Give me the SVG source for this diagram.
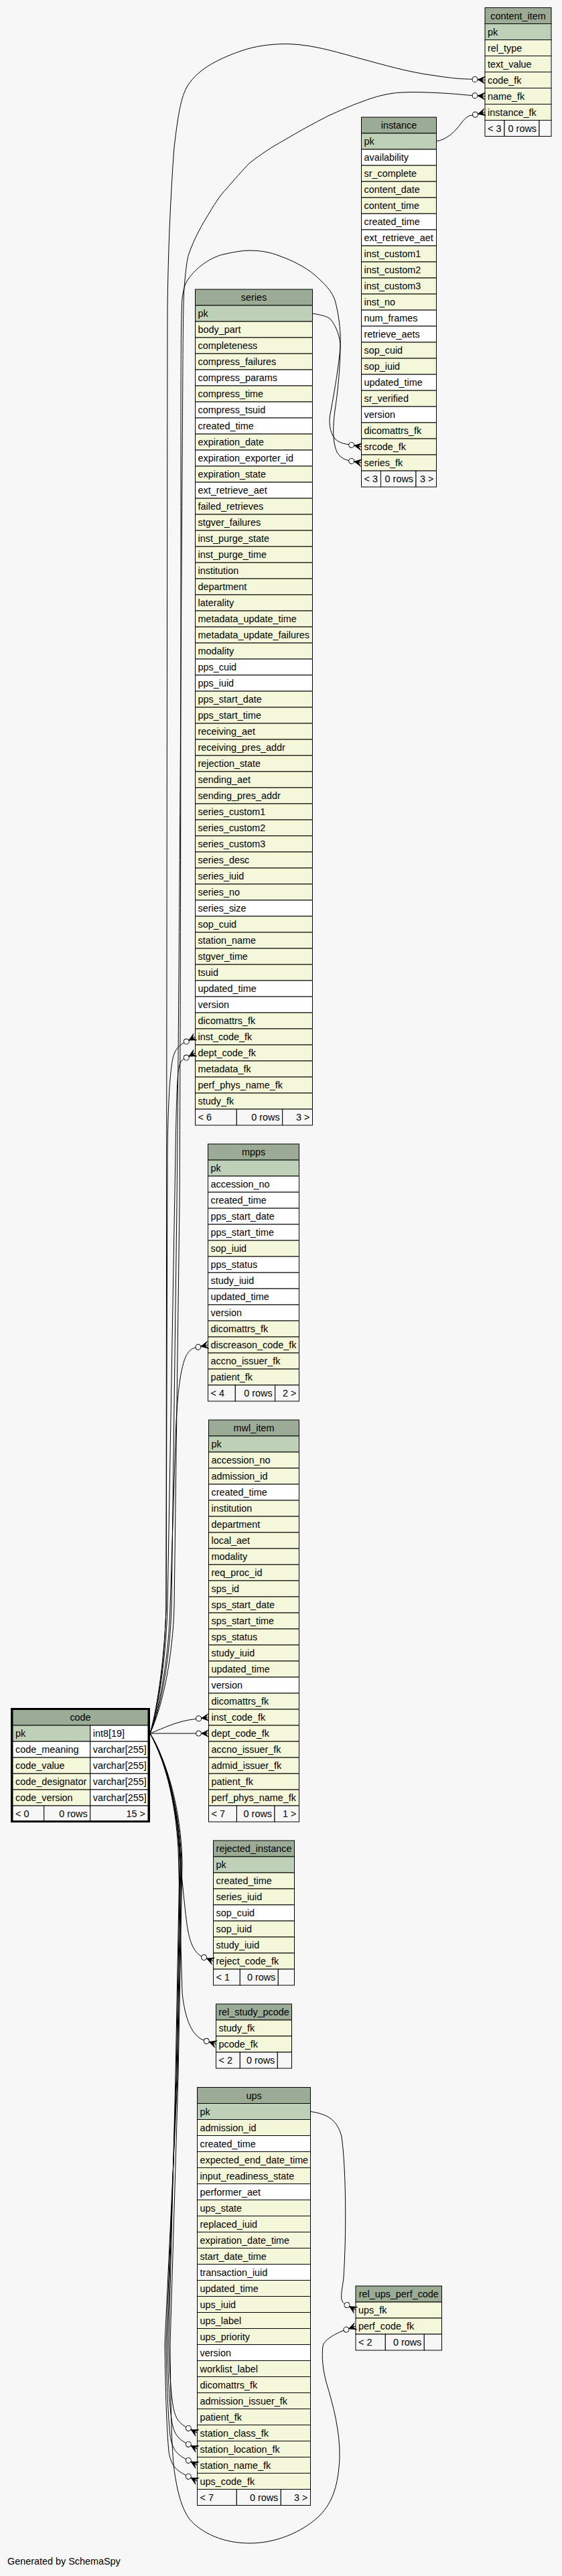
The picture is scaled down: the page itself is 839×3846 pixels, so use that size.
<svg xmlns="http://www.w3.org/2000/svg" width="839" height="3846" viewBox="0 0 839 3846">
<style>
.t rect{stroke:#000;stroke-width:1}
.hd{fill:#9bab96}.pk{fill:#bed1b8}.ix{fill:#f4f7da}.nm{fill:#fff}.ft{fill:#f7f7f7}
text{font-family:"Liberation Sans",Arial,Helvetica,sans-serif;font-size:14.4px;fill:#000}
.c{text-anchor:middle}.r{text-anchor:end}
#connectors path{fill:none;stroke:#000;stroke-width:1}
</style>
<defs>
<g id="crowodot">
<circle cx="-15" cy="0" r="4" fill="#fff" stroke="#000" stroke-width="1"/>
<path d="M-11,0 L0,-5.5 L-4.5,0 L0,5.5 Z" fill="#000" stroke="#000" stroke-width="0.6"/>
<path d="M-11,0 H0" stroke="#000" stroke-width="1"/>
</g>
</defs>
<rect width="839" height="3846" fill="#f7f7f7"/>

<g id="content_item" class="t">
<rect class="hd" x="724" y="11.5" width="99" height="24"/><text class="c" x="773.5" y="28.5">content_item</text>
<rect class="pk" x="724" y="35.5" width="99" height="24"/><text x="728" y="52.5">pk</text>
<rect class="ix" x="724" y="59.5" width="99" height="24"/><text x="728" y="76.5">rel_type</text>
<rect class="ix" x="724" y="83.5" width="99" height="24"/><text x="728" y="100.5">text_value</text>
<rect class="ix" x="724" y="107.5" width="99" height="24"/><text x="728" y="124.5">code_fk</text>
<rect class="ix" x="724" y="131.5" width="99" height="24"/><text x="728" y="148.5">name_fk</text>
<rect class="ix" x="724" y="155.5" width="99" height="24"/><text x="728" y="172.5">instance_fk</text>
<rect class="ft" x="724" y="179.5" width="29" height="24"/><rect class="ft" x="753" y="179.5" width="52" height="24"/><rect class="ft" x="805" y="179.5" width="18" height="24"/>
<text x="728" y="196.5">&lt; 3</text><text class="r" x="801" y="196.5">0 rows</text>
</g>

<g id="instance" class="t">
<rect class="hd" x="539.5" y="175" width="112" height="24"/><text class="c" x="595.5" y="192">instance</text>
<rect class="pk" x="539.5" y="199" width="112" height="24"/><text x="543.5" y="216">pk</text>
<rect class="nm" x="539.5" y="223" width="112" height="24"/><text x="543.5" y="240">availability</text>
<rect class="ix" x="539.5" y="247" width="112" height="24"/><text x="543.5" y="264">sr_complete</text>
<rect class="ix" x="539.5" y="271" width="112" height="24"/><text x="543.5" y="288">content_date</text>
<rect class="ix" x="539.5" y="295" width="112" height="24"/><text x="543.5" y="312">content_time</text>
<rect class="nm" x="539.5" y="319" width="112" height="24"/><text x="543.5" y="336">created_time</text>
<rect class="nm" x="539.5" y="343" width="112" height="24"/><text x="543.5" y="360">ext_retrieve_aet</text>
<rect class="ix" x="539.5" y="367" width="112" height="24"/><text x="543.5" y="384">inst_custom1</text>
<rect class="ix" x="539.5" y="391" width="112" height="24"/><text x="543.5" y="408">inst_custom2</text>
<rect class="ix" x="539.5" y="415" width="112" height="24"/><text x="543.5" y="432">inst_custom3</text>
<rect class="ix" x="539.5" y="439" width="112" height="24"/><text x="543.5" y="456">inst_no</text>
<rect class="nm" x="539.5" y="463" width="112" height="24"/><text x="543.5" y="480">num_frames</text>
<rect class="nm" x="539.5" y="487" width="112" height="24"/><text x="543.5" y="504">retrieve_aets</text>
<rect class="ix" x="539.5" y="511" width="112" height="24"/><text x="543.5" y="528">sop_cuid</text>
<rect class="ix" x="539.5" y="535" width="112" height="24"/><text x="543.5" y="552">sop_iuid</text>
<rect class="nm" x="539.5" y="559" width="112" height="24"/><text x="543.5" y="576">updated_time</text>
<rect class="ix" x="539.5" y="583" width="112" height="24"/><text x="543.5" y="600">sr_verified</text>
<rect class="nm" x="539.5" y="607" width="112" height="24"/><text x="543.5" y="624">version</text>
<rect class="ix" x="539.5" y="631" width="112" height="24"/><text x="543.5" y="648">dicomattrs_fk</text>
<rect class="ix" x="539.5" y="655" width="112" height="24"/><text x="543.5" y="672">srcode_fk</text>
<rect class="ix" x="539.5" y="679" width="112" height="24"/><text x="543.5" y="696">series_fk</text>
<rect class="ft" x="539.5" y="703" width="29" height="24"/><rect class="ft" x="568.5" y="703" width="52.5" height="24"/><rect class="ft" x="621" y="703" width="30.5" height="24"/>
<text x="543.5" y="720">&lt; 3</text><text class="r" x="617" y="720">0 rows</text><text class="r" x="647.5" y="720">3 &gt;</text>
</g>

<g id="series" class="t">
<rect class="hd" x="291.5" y="432" width="175" height="24"/><text class="c" x="379" y="449">series</text>
<rect class="pk" x="291.5" y="456" width="175" height="24"/><text x="295.5" y="473">pk</text>
<rect class="ix" x="291.5" y="480" width="175" height="24"/><text x="295.5" y="497">body_part</text>
<rect class="ix" x="291.5" y="504" width="175" height="24"/><text x="295.5" y="521">completeness</text>
<rect class="ix" x="291.5" y="528" width="175" height="24"/><text x="295.5" y="545">compress_failures</text>
<rect class="nm" x="291.5" y="552" width="175" height="24"/><text x="295.5" y="569">compress_params</text>
<rect class="ix" x="291.5" y="576" width="175" height="24"/><text x="295.5" y="593">compress_time</text>
<rect class="nm" x="291.5" y="600" width="175" height="24"/><text x="295.5" y="617">compress_tsuid</text>
<rect class="nm" x="291.5" y="624" width="175" height="24"/><text x="295.5" y="641">created_time</text>
<rect class="ix" x="291.5" y="648" width="175" height="24"/><text x="295.5" y="665">expiration_date</text>
<rect class="nm" x="291.5" y="672" width="175" height="24"/><text x="295.5" y="689">expiration_exporter_id</text>
<rect class="ix" x="291.5" y="696" width="175" height="24"/><text x="295.5" y="713">expiration_state</text>
<rect class="nm" x="291.5" y="720" width="175" height="24"/><text x="295.5" y="737">ext_retrieve_aet</text>
<rect class="ix" x="291.5" y="744" width="175" height="24"/><text x="295.5" y="761">failed_retrieves</text>
<rect class="ix" x="291.5" y="768" width="175" height="24"/><text x="295.5" y="785">stgver_failures</text>
<rect class="ix" x="291.5" y="792" width="175" height="24"/><text x="295.5" y="809">inst_purge_state</text>
<rect class="ix" x="291.5" y="816" width="175" height="24"/><text x="295.5" y="833">inst_purge_time</text>
<rect class="ix" x="291.5" y="840" width="175" height="24"/><text x="295.5" y="857">institution</text>
<rect class="ix" x="291.5" y="864" width="175" height="24"/><text x="295.5" y="881">department</text>
<rect class="ix" x="291.5" y="888" width="175" height="24"/><text x="295.5" y="905">laterality</text>
<rect class="ix" x="291.5" y="912" width="175" height="24"/><text x="295.5" y="929">metadata_update_time</text>
<rect class="ix" x="291.5" y="936" width="175" height="24"/><text x="295.5" y="953">metadata_update_failures</text>
<rect class="ix" x="291.5" y="960" width="175" height="24"/><text x="295.5" y="977">modality</text>
<rect class="nm" x="291.5" y="984" width="175" height="24"/><text x="295.5" y="1001">pps_cuid</text>
<rect class="nm" x="291.5" y="1008" width="175" height="24"/><text x="295.5" y="1025">pps_iuid</text>
<rect class="ix" x="291.5" y="1032" width="175" height="24"/><text x="295.5" y="1049">pps_start_date</text>
<rect class="ix" x="291.5" y="1056" width="175" height="24"/><text x="295.5" y="1073">pps_start_time</text>
<rect class="ix" x="291.5" y="1080" width="175" height="24"/><text x="295.5" y="1097">receiving_aet</text>
<rect class="ix" x="291.5" y="1104" width="175" height="24"/><text x="295.5" y="1121">receiving_pres_addr</text>
<rect class="ix" x="291.5" y="1128" width="175" height="24"/><text x="295.5" y="1145">rejection_state</text>
<rect class="ix" x="291.5" y="1152" width="175" height="24"/><text x="295.5" y="1169">sending_aet</text>
<rect class="ix" x="291.5" y="1176" width="175" height="24"/><text x="295.5" y="1193">sending_pres_addr</text>
<rect class="ix" x="291.5" y="1200" width="175" height="24"/><text x="295.5" y="1217">series_custom1</text>
<rect class="ix" x="291.5" y="1224" width="175" height="24"/><text x="295.5" y="1241">series_custom2</text>
<rect class="ix" x="291.5" y="1248" width="175" height="24"/><text x="295.5" y="1265">series_custom3</text>
<rect class="ix" x="291.5" y="1272" width="175" height="24"/><text x="295.5" y="1289">series_desc</text>
<rect class="ix" x="291.5" y="1296" width="175" height="24"/><text x="295.5" y="1313">series_iuid</text>
<rect class="ix" x="291.5" y="1320" width="175" height="24"/><text x="295.5" y="1337">series_no</text>
<rect class="nm" x="291.5" y="1344" width="175" height="24"/><text x="295.5" y="1361">series_size</text>
<rect class="ix" x="291.5" y="1368" width="175" height="24"/><text x="295.5" y="1385">sop_cuid</text>
<rect class="ix" x="291.5" y="1392" width="175" height="24"/><text x="295.5" y="1409">station_name</text>
<rect class="ix" x="291.5" y="1416" width="175" height="24"/><text x="295.5" y="1433">stgver_time</text>
<rect class="ix" x="291.5" y="1440" width="175" height="24"/><text x="295.5" y="1457">tsuid</text>
<rect class="nm" x="291.5" y="1464" width="175" height="24"/><text x="295.5" y="1481">updated_time</text>
<rect class="nm" x="291.5" y="1488" width="175" height="24"/><text x="295.5" y="1505">version</text>
<rect class="ix" x="291.5" y="1512" width="175" height="24"/><text x="295.5" y="1529">dicomattrs_fk</text>
<rect class="ix" x="291.5" y="1536" width="175" height="24"/><text x="295.5" y="1553">inst_code_fk</text>
<rect class="ix" x="291.5" y="1560" width="175" height="24"/><text x="295.5" y="1577">dept_code_fk</text>
<rect class="ix" x="291.5" y="1584" width="175" height="24"/><text x="295.5" y="1601">metadata_fk</text>
<rect class="ix" x="291.5" y="1608" width="175" height="24"/><text x="295.5" y="1625">perf_phys_name_fk</text>
<rect class="ix" x="291.5" y="1632" width="175" height="24"/><text x="295.5" y="1649">study_fk</text>
<rect class="ft" x="291.5" y="1656" width="61.8" height="24"/><rect class="ft" x="353.3" y="1656" width="68.4" height="24"/><rect class="ft" x="421.7" y="1656" width="44.8" height="24"/>
<text x="295.5" y="1673">&lt; 6</text><text class="r" x="417.7" y="1673">0 rows</text><text class="r" x="462.5" y="1673">3 &gt;</text>
</g>

<g id="mpps" class="t">
<rect class="hd" x="310.5" y="1708" width="136" height="24"/><text class="c" x="378.5" y="1725">mpps</text>
<rect class="pk" x="310.5" y="1732" width="136" height="24"/><text x="314.5" y="1749">pk</text>
<rect class="nm" x="310.5" y="1756" width="136" height="24"/><text x="314.5" y="1773">accession_no</text>
<rect class="nm" x="310.5" y="1780" width="136" height="24"/><text x="314.5" y="1797">created_time</text>
<rect class="nm" x="310.5" y="1804" width="136" height="24"/><text x="314.5" y="1821">pps_start_date</text>
<rect class="nm" x="310.5" y="1828" width="136" height="24"/><text x="314.5" y="1845">pps_start_time</text>
<rect class="ix" x="310.5" y="1852" width="136" height="24"/><text x="314.5" y="1869">sop_iuid</text>
<rect class="nm" x="310.5" y="1876" width="136" height="24"/><text x="314.5" y="1893">pps_status</text>
<rect class="nm" x="310.5" y="1900" width="136" height="24"/><text x="314.5" y="1917">study_iuid</text>
<rect class="nm" x="310.5" y="1924" width="136" height="24"/><text x="314.5" y="1941">updated_time</text>
<rect class="nm" x="310.5" y="1948" width="136" height="24"/><text x="314.5" y="1965">version</text>
<rect class="ix" x="310.5" y="1972" width="136" height="24"/><text x="314.5" y="1989">dicomattrs_fk</text>
<rect class="ix" x="310.5" y="1996" width="136" height="24"/><text x="314.5" y="2013">discreason_code_fk</text>
<rect class="ix" x="310.5" y="2020" width="136" height="24"/><text x="314.5" y="2037">accno_issuer_fk</text>
<rect class="ix" x="310.5" y="2044" width="136" height="24"/><text x="314.5" y="2061">patient_fk</text>
<rect class="ft" x="310.5" y="2068" width="40.8" height="24"/><rect class="ft" x="351.3" y="2068" width="59.4" height="24"/><rect class="ft" x="410.7" y="2068" width="35.8" height="24"/>
<text x="314.5" y="2085">&lt; 4</text><text class="r" x="406.7" y="2085">0 rows</text><text class="r" x="442.5" y="2085">2 &gt;</text>
</g>

<g id="mwl_item" class="t">
<rect class="hd" x="311.5" y="2120" width="135" height="24"/><text class="c" x="379" y="2137">mwl_item</text>
<rect class="pk" x="311.5" y="2144" width="135" height="24"/><text x="315.5" y="2161">pk</text>
<rect class="ix" x="311.5" y="2168" width="135" height="24"/><text x="315.5" y="2185">accession_no</text>
<rect class="ix" x="311.5" y="2192" width="135" height="24"/><text x="315.5" y="2209">admission_id</text>
<rect class="nm" x="311.5" y="2216" width="135" height="24"/><text x="315.5" y="2233">created_time</text>
<rect class="ix" x="311.5" y="2240" width="135" height="24"/><text x="315.5" y="2257">institution</text>
<rect class="ix" x="311.5" y="2264" width="135" height="24"/><text x="315.5" y="2281">department</text>
<rect class="ix" x="311.5" y="2288" width="135" height="24"/><text x="315.5" y="2305">local_aet</text>
<rect class="ix" x="311.5" y="2312" width="135" height="24"/><text x="315.5" y="2329">modality</text>
<rect class="ix" x="311.5" y="2336" width="135" height="24"/><text x="315.5" y="2353">req_proc_id</text>
<rect class="ix" x="311.5" y="2360" width="135" height="24"/><text x="315.5" y="2377">sps_id</text>
<rect class="ix" x="311.5" y="2384" width="135" height="24"/><text x="315.5" y="2401">sps_start_date</text>
<rect class="ix" x="311.5" y="2408" width="135" height="24"/><text x="315.5" y="2425">sps_start_time</text>
<rect class="ix" x="311.5" y="2432" width="135" height="24"/><text x="315.5" y="2449">sps_status</text>
<rect class="ix" x="311.5" y="2456" width="135" height="24"/><text x="315.5" y="2473">study_iuid</text>
<rect class="ix" x="311.5" y="2480" width="135" height="24"/><text x="315.5" y="2497">updated_time</text>
<rect class="nm" x="311.5" y="2504" width="135" height="24"/><text x="315.5" y="2521">version</text>
<rect class="ix" x="311.5" y="2528" width="135" height="24"/><text x="315.5" y="2545">dicomattrs_fk</text>
<rect class="ix" x="311.5" y="2552" width="135" height="24"/><text x="315.5" y="2569">inst_code_fk</text>
<rect class="ix" x="311.5" y="2576" width="135" height="24"/><text x="315.5" y="2593">dept_code_fk</text>
<rect class="ix" x="311.5" y="2600" width="135" height="24"/><text x="315.5" y="2617">accno_issuer_fk</text>
<rect class="ix" x="311.5" y="2624" width="135" height="24"/><text x="315.5" y="2641">admid_issuer_fk</text>
<rect class="ix" x="311.5" y="2648" width="135" height="24"/><text x="315.5" y="2665">patient_fk</text>
<rect class="ix" x="311.5" y="2672" width="135" height="24"/><text x="315.5" y="2689">perf_phys_name_fk</text>
<rect class="ft" x="311.5" y="2696" width="41.9" height="24"/><rect class="ft" x="353.4" y="2696" width="56.6" height="24"/><rect class="ft" x="410" y="2696" width="36.5" height="24"/>
<text x="315.5" y="2713">&lt; 7</text><text class="r" x="406" y="2713">0 rows</text><text class="r" x="442.5" y="2713">1 &gt;</text>
</g>

<g id="code" class="t">
<rect class="hd" x="19" y="2552" width="202" height="24"/><text class="c" x="120" y="2569">code</text>
<rect class="pk" x="19" y="2576" width="115.7" height="24"/><rect class="nm" x="134.7" y="2576" width="86.3" height="24"/>
<text x="23" y="2593">pk</text><text x="138.7" y="2593">int8[19]</text>
<rect class="nm" x="19" y="2600" width="115.7" height="24"/><rect class="nm" x="134.7" y="2600" width="86.3" height="24"/>
<text x="23" y="2617">code_meaning</text><text x="138.7" y="2617">varchar[255]</text>
<rect class="ix" x="19" y="2624" width="115.7" height="24"/><rect class="nm" x="134.7" y="2624" width="86.3" height="24"/>
<text x="23" y="2641">code_value</text><text x="138.7" y="2641">varchar[255]</text>
<rect class="ix" x="19" y="2648" width="115.7" height="24"/><rect class="nm" x="134.7" y="2648" width="86.3" height="24"/>
<text x="23" y="2665">code_designator</text><text x="138.7" y="2665">varchar[255]</text>
<rect class="ix" x="19" y="2672" width="115.7" height="24"/><rect class="nm" x="134.7" y="2672" width="86.3" height="24"/>
<text x="23" y="2689">code_version</text><text x="138.7" y="2689">varchar[255]</text>
<rect class="ft" x="19" y="2696" width="46.7" height="24"/><rect class="ft" x="65.7" y="2696" width="69" height="24"/><rect class="ft" x="134.7" y="2696" width="86.3" height="24"/>
<text x="23" y="2713">&lt; 0</text><text class="r" x="130.7" y="2713">0 rows</text><text class="r" x="217" y="2713">15 &gt;</text>
<rect x="17.5" y="2551.5" width="205" height="168" fill="none" style="stroke-width:3"/>
</g>

<g id="rejected_instance" class="t">
<rect class="hd" x="318.5" y="2748" width="121" height="24"/><text class="c" x="379" y="2765">rejected_instance</text>
<rect class="pk" x="318.5" y="2772" width="121" height="24"/><text x="322.5" y="2789">pk</text>
<rect class="ix" x="318.5" y="2796" width="121" height="24"/><text x="322.5" y="2813">created_time</text>
<rect class="ix" x="318.5" y="2820" width="121" height="24"/><text x="322.5" y="2837">series_iuid</text>
<rect class="nm" x="318.5" y="2844" width="121" height="24"/><text x="322.5" y="2861">sop_cuid</text>
<rect class="ix" x="318.5" y="2868" width="121" height="24"/><text x="322.5" y="2885">sop_iuid</text>
<rect class="ix" x="318.5" y="2892" width="121" height="24"/><text x="322.5" y="2909">study_iuid</text>
<rect class="ix" x="318.5" y="2916" width="121" height="24"/><text x="322.5" y="2933">reject_code_fk</text>
<rect class="ft" x="318.5" y="2940" width="39.8" height="24"/><rect class="ft" x="358.3" y="2940" width="57" height="24"/><rect class="ft" x="415.3" y="2940" width="24.2" height="24"/>
<text x="322.5" y="2957">&lt; 1</text><text class="r" x="411.3" y="2957">0 rows</text>
</g>

<g id="rel_study_pcode" class="t">
<rect class="hd" x="322.5" y="2992" width="113" height="24"/><text class="c" x="379" y="3009">rel_study_pcode</text>
<rect class="ix" x="322.5" y="3016" width="113" height="24"/><text x="326.5" y="3033">study_fk</text>
<rect class="ix" x="322.5" y="3040" width="113" height="24"/><text x="326.5" y="3057">pcode_fk</text>
<rect class="ft" x="322.5" y="3064" width="35.8" height="24"/><rect class="ft" x="358.3" y="3064" width="56" height="24"/><rect class="ft" x="414.3" y="3064" width="21.2" height="24"/>
<text x="326.5" y="3081">&lt; 2</text><text class="r" x="410.3" y="3081">0 rows</text>
</g>

<g id="ups" class="t">
<rect class="hd" x="294.5" y="3116.5" width="169" height="24"/><text class="c" x="379" y="3133.5">ups</text>
<rect class="pk" x="294.5" y="3140.5" width="169" height="24"/><text x="298.5" y="3157.5">pk</text>
<rect class="ix" x="294.5" y="3164.5" width="169" height="24"/><text x="298.5" y="3181.5">admission_id</text>
<rect class="nm" x="294.5" y="3188.5" width="169" height="24"/><text x="298.5" y="3205.5">created_time</text>
<rect class="ix" x="294.5" y="3212.5" width="169" height="24"/><text x="298.5" y="3229.5">expected_end_date_time</text>
<rect class="ix" x="294.5" y="3236.5" width="169" height="24"/><text x="298.5" y="3253.5">input_readiness_state</text>
<rect class="nm" x="294.5" y="3260.5" width="169" height="24"/><text x="298.5" y="3277.5">performer_aet</text>
<rect class="ix" x="294.5" y="3284.5" width="169" height="24"/><text x="298.5" y="3301.5">ups_state</text>
<rect class="ix" x="294.5" y="3308.5" width="169" height="24"/><text x="298.5" y="3325.5">replaced_iuid</text>
<rect class="ix" x="294.5" y="3332.5" width="169" height="24"/><text x="298.5" y="3349.5">expiration_date_time</text>
<rect class="ix" x="294.5" y="3356.5" width="169" height="24"/><text x="298.5" y="3373.5">start_date_time</text>
<rect class="nm" x="294.5" y="3380.5" width="169" height="24"/><text x="298.5" y="3397.5">transaction_iuid</text>
<rect class="ix" x="294.5" y="3404.5" width="169" height="24"/><text x="298.5" y="3421.5">updated_time</text>
<rect class="ix" x="294.5" y="3428.5" width="169" height="24"/><text x="298.5" y="3445.5">ups_iuid</text>
<rect class="ix" x="294.5" y="3452.5" width="169" height="24"/><text x="298.5" y="3469.5">ups_label</text>
<rect class="ix" x="294.5" y="3476.5" width="169" height="24"/><text x="298.5" y="3493.5">ups_priority</text>
<rect class="nm" x="294.5" y="3500.5" width="169" height="24"/><text x="298.5" y="3517.5">version</text>
<rect class="ix" x="294.5" y="3524.5" width="169" height="24"/><text x="298.5" y="3541.5">worklist_label</text>
<rect class="ix" x="294.5" y="3548.5" width="169" height="24"/><text x="298.5" y="3565.5">dicomattrs_fk</text>
<rect class="ix" x="294.5" y="3572.5" width="169" height="24"/><text x="298.5" y="3589.5">admission_issuer_fk</text>
<rect class="ix" x="294.5" y="3596.5" width="169" height="24"/><text x="298.5" y="3613.5">patient_fk</text>
<rect class="ix" x="294.5" y="3620.5" width="169" height="24"/><text x="298.5" y="3637.5">station_class_fk</text>
<rect class="ix" x="294.5" y="3644.5" width="169" height="24"/><text x="298.5" y="3661.5">station_location_fk</text>
<rect class="ix" x="294.5" y="3668.5" width="169" height="24"/><text x="298.5" y="3685.5">station_name_fk</text>
<rect class="ix" x="294.5" y="3692.5" width="169" height="24"/><text x="298.5" y="3709.5">ups_code_fk</text>
<rect class="ft" x="294.5" y="3716.5" width="58.8" height="24"/><rect class="ft" x="353.3" y="3716.5" width="66" height="24"/><rect class="ft" x="419.3" y="3716.5" width="44.2" height="24"/>
<text x="298.5" y="3733.5">&lt; 7</text><text class="r" x="415.3" y="3733.5">0 rows</text><text class="r" x="459.5" y="3733.5">3 &gt;</text>
</g>

<g id="rel_ups_perf_code" class="t">
<rect class="hd" x="531" y="3413" width="128.5" height="24"/><text class="c" x="595.25" y="3430">rel_ups_perf_code</text>
<rect class="ix" x="531" y="3437" width="128.5" height="24"/><text x="535" y="3454">ups_fk</text>
<rect class="ix" x="531" y="3461" width="128.5" height="24"/><text x="535" y="3478">perf_code_fk</text>
<rect class="ft" x="531" y="3485" width="44.3" height="24"/><rect class="ft" x="575.3" y="3485" width="58" height="24"/><rect class="ft" x="633.3" y="3485" width="26.2" height="24"/>
<text x="535" y="3502">&lt; 2</text><text class="r" x="629.3" y="3502">0 rows</text>
</g>

<g id="connectors">
<path d="M224,2588 C238,2545 246,2470 248,2400 L250,460 C251,380 254,300 260,220 C266,170 270,145 280,128 C295,105 320,90 360,76 C380,69 405,65 433,65.7 C470,67 510,80 540,88 C570,96 610,108 650,113 C675,117 690,118 705,118.2"/>
<path d="M224,2588 C242,2545 254,2470 256,2400 L264,1800 C268,1400 270,1000 272,700 C273,550 273,460 275,430 C277,405 279,390 281,381.7 C290,355 302,335 313,317 C322,302 330,290 337,283 C350,268 362,254 373,243 C390,230 405,220 423,210 C445,197 468,184 490,173 C508,165 525,157 540,152 C560,144 580,139 600,138 C620,137 640,138 660,139 C680,140 695,142 705,142.5"/>
<path d="M224,2588 C244,2545 258,2470 260,2400 L268,1800 C270,1400 270,1000 270,700 C270,560 270,470 272,445 C274,430 277,422 281,417 C292,400 315,383 337,379 C350,376 362,374 373,374 C390,374 405,377 417,382 C440,390 462,402 477,417 C488,427 496,437 500,448 C506,470 509,495 508,517 C506,545 500,580 494,613 C490,630 492,645 500,655 C506,661 513,662.5 520.8,663.7"/>
<path d="M466.5,468 C478,470 488,472 493,476 C503,488 508,505 508,517 C508,545 505,580 500,613 C497,635 496,660 503,675 C508,683 514,686 520.8,687.7"/>
<path d="M651.5,211 C668,208 680,196 690,182 C696,175 700,172 705.6,172.1"/>
<path d="M224,2588 C236,2545 246,2470 248,2400 L250,1720 C251,1640 254,1600 258,1580 C261,1568 266,1561.5 274.7,1556.9"/>
<path d="M224,2588 C238,2545 248,2470 250,2400 L262,1720 C263,1660 264,1620 266,1600 C268,1590 268,1585 274.7,1580.9"/>
<path d="M224,2588 C240,2545 252,2470 254,2400 L262,2150 C264,2080 270,2040 278,2024 C282,2017 286,2013 291.9,2012"/>
<path d="M224,2588 C245,2580 262,2570 292.6,2566.3"/>
<path d="M224,2588 L292.5,2588"/>
<path d="M224,2588 C245,2620 262,2680 266,2740 C270,2790 274,2830 278,2865 C281,2890 286,2913 300.9,2920.9"/>
<path d="M224,2588 C246,2625 262,2690 266,2760 L272,2975 C275,3005 282,3025 290,3035 C294,3040 298,3044 304.4,3046.1"/>
<path d="M224,2588 C248,2632 266,2700 268,2780 L262,3100 L252,3500 C253,3540 255,3570 258,3590 C261,3608 265,3616 277.7,3623.6"/>
<path d="M224,2588 C248,2632 266,2700 269,2780 L263,3100 L250,3500 C251,3550 253,3590 256,3612 C259,3632 264,3640 277.7,3647.6"/>
<path d="M224,2588 C249,2632 267,2700 270,2780 L264,3100 L248,3500 C249,3560 251,3610 254,3636 C257,3656 263,3664 277.7,3671.6"/>
<path d="M224,2588 C249,2632 268,2700 271,2780 L265,3100 L246,3500 C247,3570 249,3630 252,3660 C255,3680 262,3688 277.7,3695.6"/>
<path d="M224,2588 C250,2632 270,2700 272,2780 L266,3100 L254,3500 C255,3600 256,3670 262,3700 C266,3725 272,3745 282,3760 C300,3782 335,3798 376,3797 C420,3796 458,3775 478,3755 C497,3735 505,3710 507,3670 C508,3630 497,3590 488,3560 C482,3540 480,3518 482,3503 C483,3493 503.7,3482.9 513.1,3479.5"/>
<path d="M463.5,3152.5 C485,3156 503,3162 510,3190 C517,3240 517,3340 513,3400 C511,3420 505.8,3434.5 514.5,3439.5"/>
<use href="#crowodot" transform="translate(724,119.5) rotate(4)"/>
<use href="#crowodot" transform="translate(724,143.5) rotate(3)"/>
<use href="#crowodot" transform="translate(724,167.5) rotate(-14)"/>
<use href="#crowodot" transform="translate(539.5,667) rotate(10)"/>
<use href="#crowodot" transform="translate(539.5,691) rotate(10)"/>
<use href="#crowodot" transform="translate(291.5,1548) rotate(-28)"/>
<use href="#crowodot" transform="translate(291.5,1572) rotate(-28)"/>
<use href="#crowodot" transform="translate(310.5,2008) rotate(-12)"/>
<use href="#crowodot" transform="translate(311.5,2564) rotate(-7)"/>
<use href="#crowodot" transform="translate(311.5,2588)"/>
<use href="#crowodot" transform="translate(318.5,2928) rotate(22)"/>
<use href="#crowodot" transform="translate(322.5,3052) rotate(18)"/>
<use href="#crowodot" transform="translate(294.5,3632.5) rotate(28)"/>
<use href="#crowodot" transform="translate(294.5,3656.5) rotate(28)"/>
<use href="#crowodot" transform="translate(294.5,3680.5) rotate(28)"/>
<use href="#crowodot" transform="translate(294.5,3704.5) rotate(28)"/>
<use href="#crowodot" transform="translate(531,3449) rotate(30)"/>
<use href="#crowodot" transform="translate(531,3473) rotate(-20)"/>
</g>

<text x="11" y="3829">Generated by SchemaSpy</text>
</svg>
